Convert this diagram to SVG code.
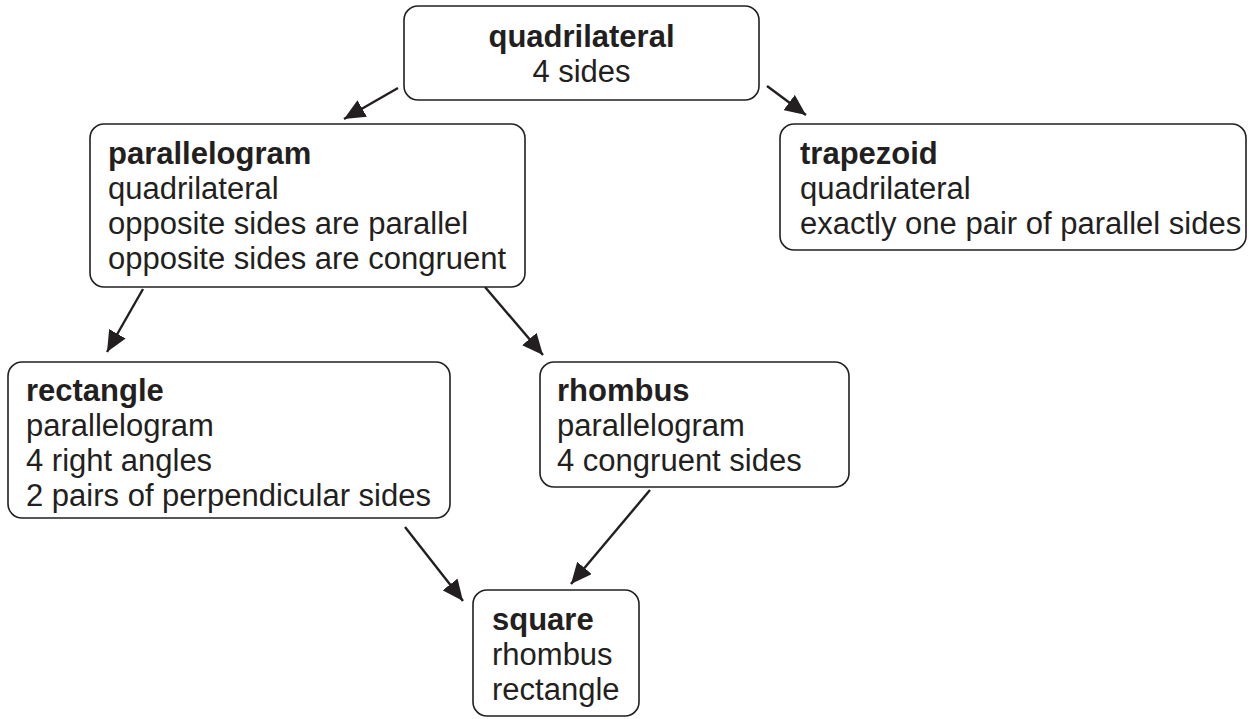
<svg xmlns="http://www.w3.org/2000/svg" width="1249" height="719" viewBox="0 0 1249 719">
  <style>
    .box { fill: #ffffff; stroke: #231f20; stroke-width: 1.6; }
    .t { font-family: "Liberation Sans", Arial, Helvetica, sans-serif; font-size: 31px; fill: #231f20; }
    .b { font-weight: bold; }
    .edge { stroke: #231f20; stroke-width: 2.4; fill: none; marker-end: url(#head); }
  </style>
  <defs>
    <marker id="head" markerUnits="userSpaceOnUse" markerWidth="23" markerHeight="19" refX="21" refY="9.5" orient="auto">
      <path d="M0,0 L21,9.5 L0,19 Z" fill="#231f20"/>
    </marker>
  </defs>
  <rect width="1249" height="719" fill="#ffffff"/>

  <g id="connectors">
    <line class="edge" x1="398" y1="88" x2="344" y2="119"/>
    <line class="edge" x1="767" y1="86" x2="806" y2="115"/>
    <line class="edge" x1="143" y1="289" x2="107" y2="352"/>
    <line class="edge" x1="485" y1="287" x2="543" y2="355"/>
    <line class="edge" x1="405" y1="527" x2="463" y2="601"/>
    <line class="edge" x1="650" y1="490" x2="571" y2="584"/>
  </g>

  <g id="quadrilateral">
    <rect class="box" x="404" y="6" width="355" height="94" rx="14"/>
    <text class="t b" x="581.5" y="47" text-anchor="middle">quadrilateral</text>
    <text class="t" x="581.5" y="82" text-anchor="middle">4 sides</text>
  </g>

  <g id="parallelogram">
    <rect class="box" x="90" y="124" width="435" height="163" rx="14"/>
    <text class="t b" x="108" y="164">parallelogram</text>
    <text class="t" x="108" y="199">quadrilateral</text>
    <text class="t" x="108" y="234">opposite sides are parallel</text>
    <text class="t" x="108" y="269">opposite sides are congruent</text>
  </g>

  <g id="trapezoid">
    <rect class="box" x="780" y="124" width="466" height="126" rx="14"/>
    <text class="t b" x="800" y="164">trapezoid</text>
    <text class="t" x="800" y="199">quadrilateral</text>
    <text class="t" x="800" y="234">exactly one pair of parallel sides</text>
  </g>

  <g id="rectangle">
    <rect class="box" x="8" y="362" width="442" height="156" rx="14"/>
    <text class="t b" x="26" y="401">rectangle</text>
    <text class="t" x="26" y="436">parallelogram</text>
    <text class="t" x="26" y="471">4 right angles</text>
    <text class="t" x="26" y="506">2 pairs of perpendicular sides</text>
  </g>

  <g id="rhombus">
    <rect class="box" x="540" y="362" width="309" height="125" rx="14"/>
    <text class="t b" x="557" y="401">rhombus</text>
    <text class="t" x="557" y="436">parallelogram</text>
    <text class="t" x="557" y="471">4 congruent sides</text>
  </g>

  <g id="square">
    <rect class="box" x="473" y="590" width="166" height="126" rx="14"/>
    <text class="t b" x="492" y="630">square</text>
    <text class="t" x="492" y="665">rhombus</text>
    <text class="t" x="492" y="700">rectangle</text>
  </g>
</svg>
